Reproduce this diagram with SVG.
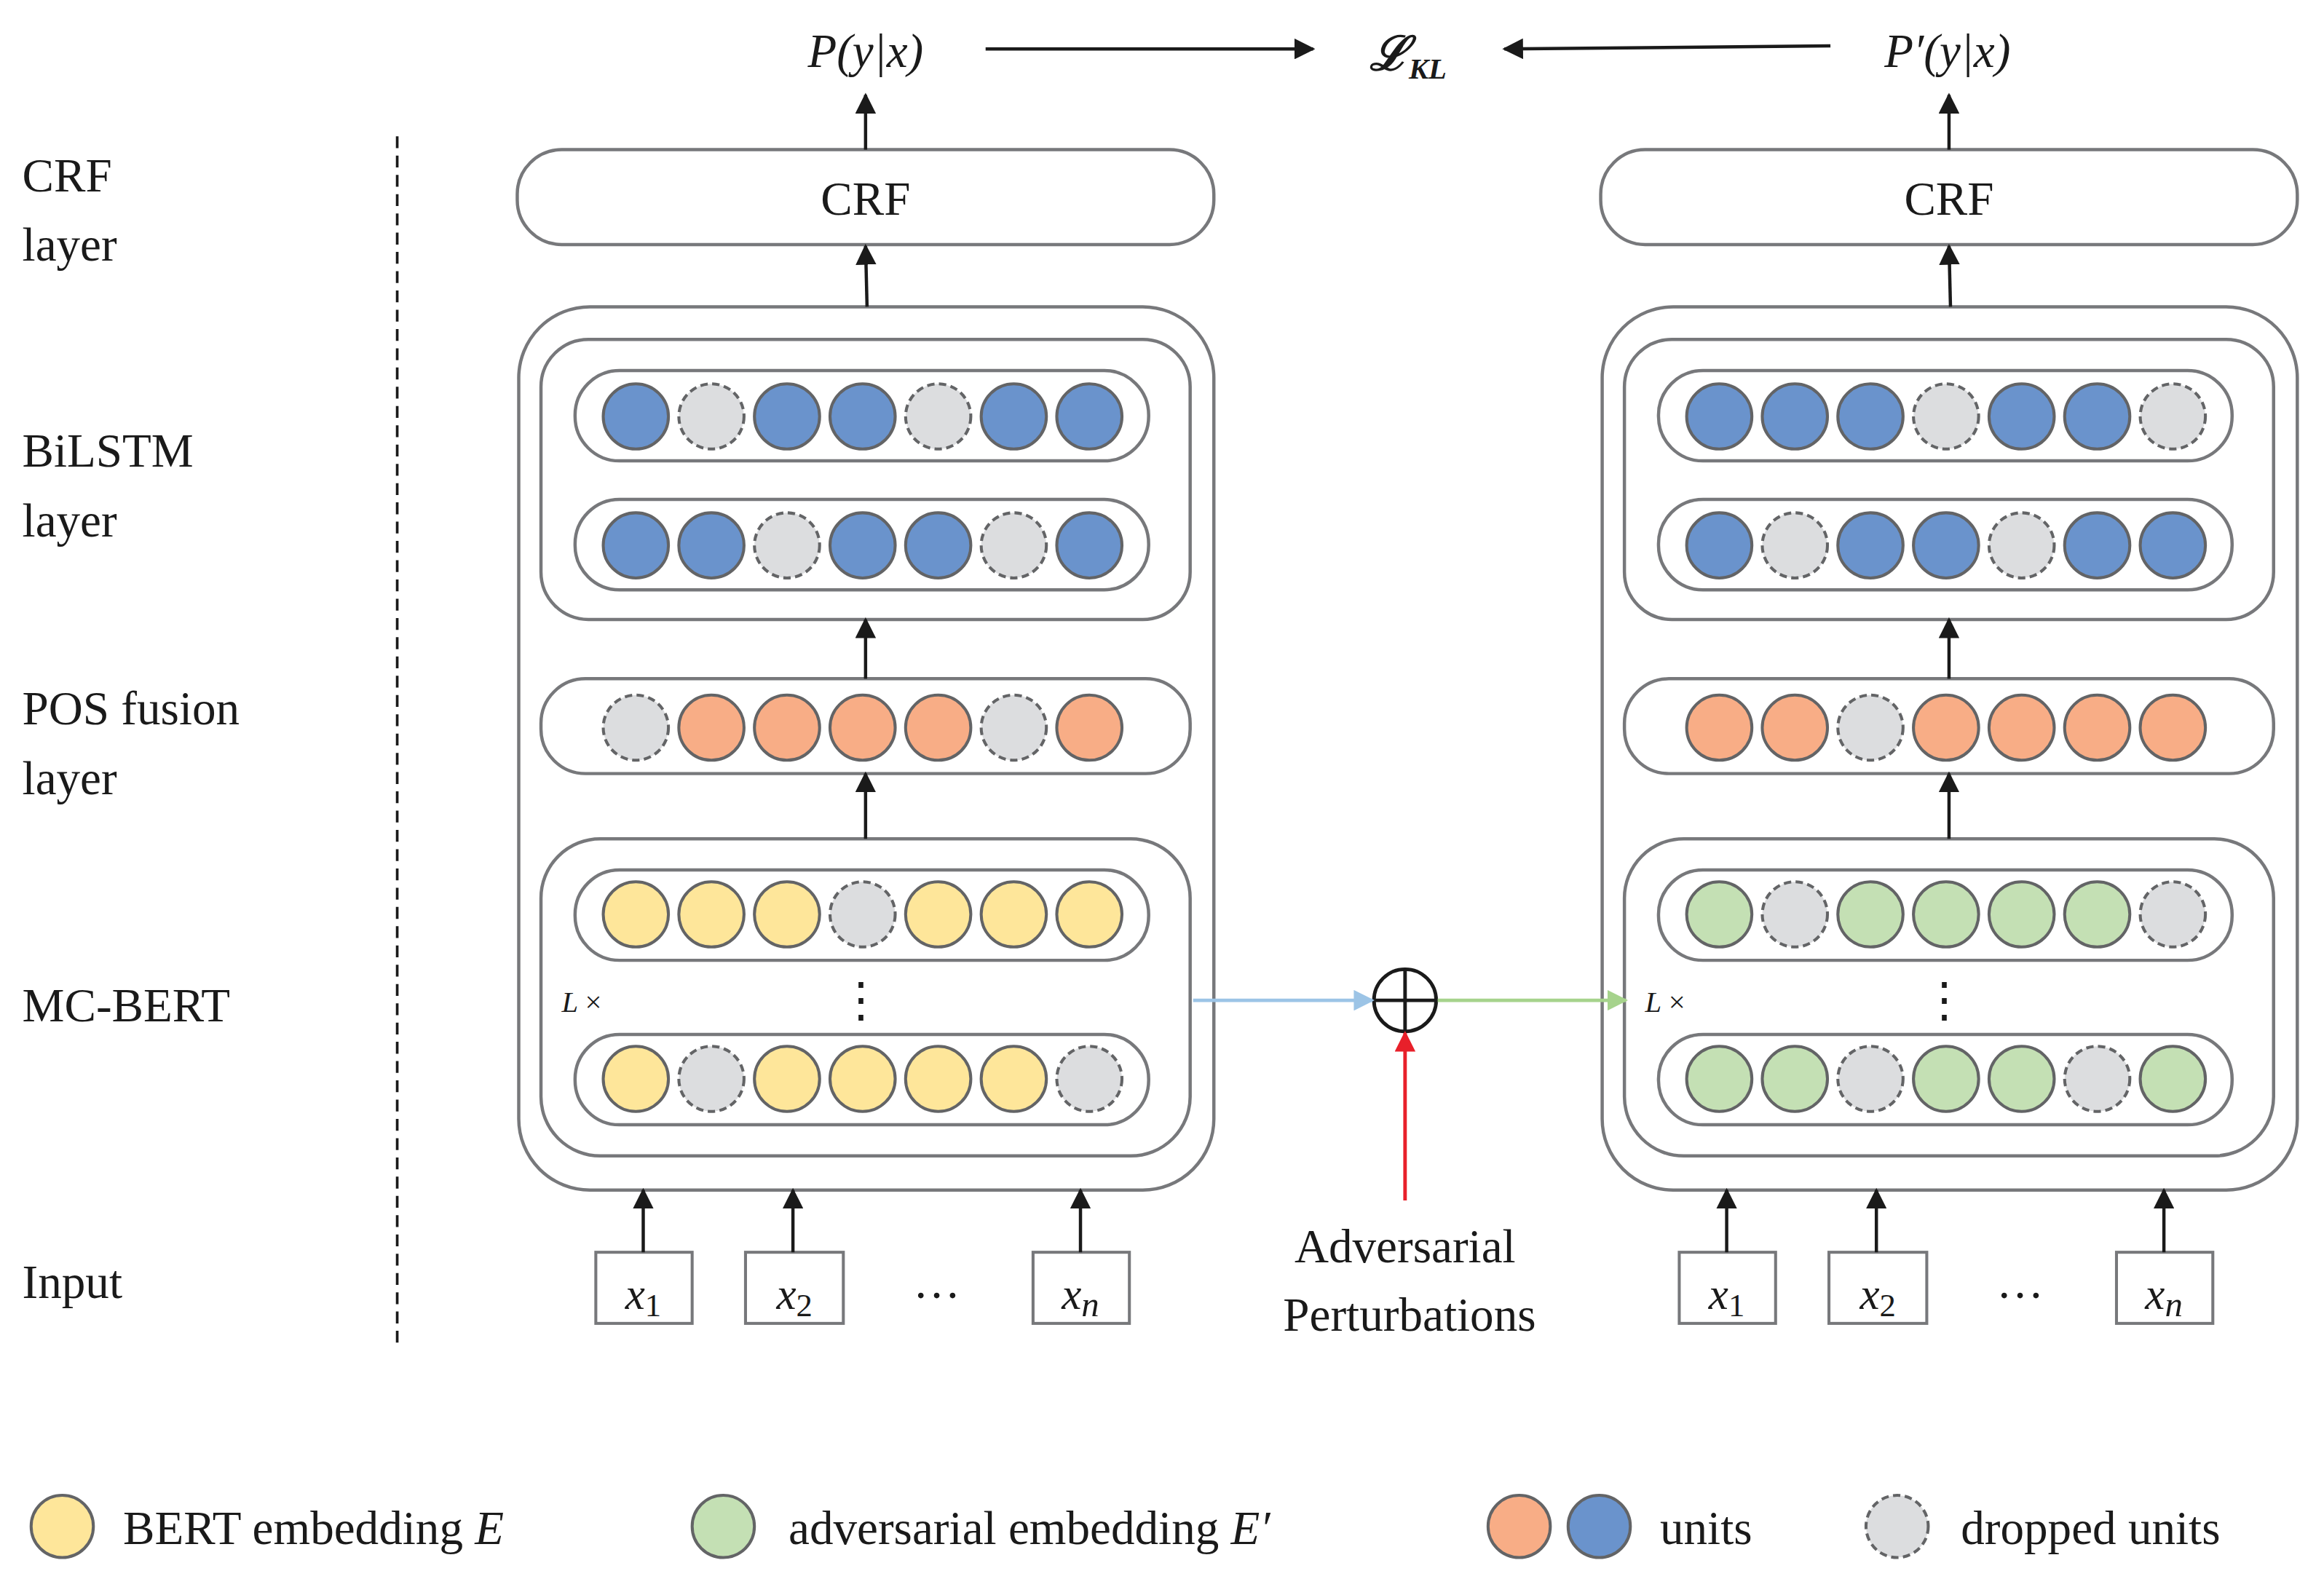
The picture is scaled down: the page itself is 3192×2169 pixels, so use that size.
<svg xmlns="http://www.w3.org/2000/svg" xmlns:xlink="http://www.w3.org/1999/xlink" width="3192" height="2169" viewBox="0 0 3192 2169">
<style>
.box{fill:none;stroke:#77787b;stroke-width:2.2}
.ibox{fill:#fff;stroke:#77787b;stroke-width:2}
.B{fill:#6a93cc;stroke:#636466;stroke-width:2}
.G{fill:#dcdddf;stroke:#636466;stroke-width:2;stroke-dasharray:5,3}
.O{fill:#f8ad86;stroke:#636466;stroke-width:2}
.Y{fill:#fee69a;stroke:#636466;stroke-width:2}
.N{fill:#c4e0b4;stroke:#636466;stroke-width:2}
.t{font-family:'Liberation Serif',serif;font-size:32px;fill:#1a1a1a}
.m{font-family:'Liberation Serif',serif;font-style:italic;fill:#1a1a1a}
.a{stroke:#1a1a1a;stroke-width:2.2;fill:none}
</style>
<defs>
<marker id="ah" viewBox="0 0 10 10" refX="9" refY="5" markerWidth="5" markerHeight="5" orient="auto" markerUnits="userSpaceOnUse"><path d="M0,0 L10,5 L0,10 z" fill="#1a1a1a"/></marker>
<marker id="ahb" viewBox="0 0 10 10" refX="9" refY="5" markerWidth="14" markerHeight="14" orient="auto" markerUnits="userSpaceOnUse"><path d="M0,0 L10,5 L0,10 z" fill="#9cc4e6"/></marker>
<marker id="ahg" viewBox="0 0 10 10" refX="9" refY="5" markerWidth="14" markerHeight="14" orient="auto" markerUnits="userSpaceOnUse"><path d="M0,0 L10,5 L0,10 z" fill="#a6d38c"/></marker>
<marker id="ahr" viewBox="0 0 10 10" refX="9" refY="5" markerWidth="14" markerHeight="14" orient="auto" markerUnits="userSpaceOnUse"><path d="M0,0 L10,5 L0,10 z" fill="#e8202a"/></marker>
<marker id="ak" viewBox="0 0 10 10" refX="9" refY="5" markerWidth="14" markerHeight="14" orient="auto" markerUnits="userSpaceOnUse"><path d="M0,0 L10,5 L0,10 z" fill="#1a1a1a"/></marker>
</defs>
<rect width="3192" height="2169" fill="#fff"/>
<g transform="scale(2.0357)">
<g id="labels">
<text class="t" x="15" y="129">CRF</text><text class="t" x="15" y="176">layer</text>
<text class="t" x="15" y="315">BiLSTM</text><text class="t" x="15" y="362">layer</text>
<text class="t" x="15" y="489">POS fusion</text><text class="t" x="15" y="536">layer</text>
<text class="t" x="15" y="689">MC-BERT</text>
<text class="t" x="15" y="876">Input</text>
<line x1="268" y1="92" x2="268" y2="908" stroke="#1a1a1a" stroke-width="1.8" stroke-dasharray="8,5"/>
</g>
<g id="top">
<text class="m" x="584" y="45" font-size="32" text-anchor="middle">P(y|x)</text>
<text class="m" x="950" y="47" font-size="32" font-weight="bold" text-anchor="middle">ℒ<tspan font-size="20" dy="6">KL</tspan></text>
<text class="m" x="1314" y="45" font-size="32" text-anchor="middle">P′(y|x)</text>
</g>
<g id="left-model">
<rect id="crf-l" class="box" x="349" y="101" width="470" height="64" rx="30"/>
<text class="t" x="584" y="145" text-anchor="middle">CRF</text>
<rect class="box" x="350" y="207" width="469" height="596" rx="48"/>
<rect class="box" x="365" y="229" width="438" height="189" rx="32"/>
<rect class="box" x="388" y="250" width="387" height="61" rx="30"/>
<rect class="box" x="388" y="337" width="387" height="61" rx="30"/>
<rect class="box" x="365" y="458" width="438" height="64" rx="30"/>
<rect class="box" x="365" y="566" width="438" height="214" rx="40"/>
<rect class="box" x="388" y="587" width="387" height="61" rx="30"/>
<rect class="box" x="388" y="698" width="387" height="61" rx="30"/>
<g>
<circle class="B" cx="429" cy="281" r="22"/><circle class="G" cx="480" cy="281" r="22"/><circle class="B" cx="531" cy="281" r="22"/><circle class="B" cx="582" cy="281" r="22"/><circle class="G" cx="633" cy="281" r="22"/><circle class="B" cx="684" cy="281" r="22"/><circle class="B" cx="735" cy="281" r="22"/>
<circle class="B" cx="429" cy="368" r="22"/><circle class="B" cx="480" cy="368" r="22"/><circle class="G" cx="531" cy="368" r="22"/><circle class="B" cx="582" cy="368" r="22"/><circle class="B" cx="633" cy="368" r="22"/><circle class="G" cx="684" cy="368" r="22"/><circle class="B" cx="735" cy="368" r="22"/>
<circle class="G" cx="429" cy="491" r="22"/><circle class="O" cx="480" cy="491" r="22"/><circle class="O" cx="531" cy="491" r="22"/><circle class="O" cx="582" cy="491" r="22"/><circle class="O" cx="633" cy="491" r="22"/><circle class="G" cx="684" cy="491" r="22"/><circle class="O" cx="735" cy="491" r="22"/>
<circle class="Y" cx="429" cy="617" r="22"/><circle class="Y" cx="480" cy="617" r="22"/><circle class="Y" cx="531" cy="617" r="22"/><circle class="G" cx="582" cy="617" r="22"/><circle class="Y" cx="633" cy="617" r="22"/><circle class="Y" cx="684" cy="617" r="22"/><circle class="Y" cx="735" cy="617" r="22"/>
<circle class="Y" cx="429" cy="728" r="22"/><circle class="G" cx="480" cy="728" r="22"/><circle class="Y" cx="531" cy="728" r="22"/><circle class="Y" cx="582" cy="728" r="22"/><circle class="Y" cx="633" cy="728" r="22"/><circle class="Y" cx="684" cy="728" r="22"/><circle class="G" cx="735" cy="728" r="22"/>
</g>
<text class="m" x="379" y="683" font-size="20">L <tspan font-style="normal">×</tspan></text>
<text class="t" x="581" y="686" text-anchor="middle" font-size="26">⋮</text>
<rect class="ibox" x="402" y="845" width="65" height="48"/><text class="m" x="434" y="883" font-size="30" text-anchor="middle">x<tspan font-style="normal" font-size="22" dy="5">1</tspan></text>
<rect class="ibox" x="503" y="845" width="66" height="48"/><text class="m" x="536" y="883" font-size="30" text-anchor="middle">x<tspan font-style="normal" font-size="22" dy="5">2</tspan></text>
<text class="t" x="632" y="876" text-anchor="middle" font-size="26">…</text>
<rect class="ibox" x="697" y="845" width="65" height="48"/><text class="m" x="729" y="883" font-size="30" text-anchor="middle">x<tspan font-size="24" dy="5">n</tspan></text>
</g>
<g id="right-model" transform="translate(731,0)">
<rect id="crf-r" class="box" x="349" y="101" width="470" height="64" rx="30"/>
<text class="t" x="584" y="145" text-anchor="middle">CRF</text>
<rect class="box" x="350" y="207" width="469" height="596" rx="48"/>
<rect class="box" x="365" y="229" width="438" height="189" rx="32"/>
<rect class="box" x="388" y="250" width="387" height="61" rx="30"/>
<rect class="box" x="388" y="337" width="387" height="61" rx="30"/>
<rect class="box" x="365" y="458" width="438" height="64" rx="30"/>
<rect class="box" x="365" y="566" width="438" height="214" rx="40"/>
<rect class="box" x="388" y="587" width="387" height="61" rx="30"/>
<rect class="box" x="388" y="698" width="387" height="61" rx="30"/>
<g>
<circle class="B" cx="429" cy="281" r="22"/><circle class="B" cx="480" cy="281" r="22"/><circle class="B" cx="531" cy="281" r="22"/><circle class="G" cx="582" cy="281" r="22"/><circle class="B" cx="633" cy="281" r="22"/><circle class="B" cx="684" cy="281" r="22"/><circle class="G" cx="735" cy="281" r="22"/>
<circle class="B" cx="429" cy="368" r="22"/><circle class="G" cx="480" cy="368" r="22"/><circle class="B" cx="531" cy="368" r="22"/><circle class="B" cx="582" cy="368" r="22"/><circle class="G" cx="633" cy="368" r="22"/><circle class="B" cx="684" cy="368" r="22"/><circle class="B" cx="735" cy="368" r="22"/>
<circle class="O" cx="429" cy="491" r="22"/><circle class="O" cx="480" cy="491" r="22"/><circle class="G" cx="531" cy="491" r="22"/><circle class="O" cx="582" cy="491" r="22"/><circle class="O" cx="633" cy="491" r="22"/><circle class="O" cx="684" cy="491" r="22"/><circle class="O" cx="735" cy="491" r="22"/>
<circle class="N" cx="429" cy="617" r="22"/><circle class="G" cx="480" cy="617" r="22"/><circle class="N" cx="531" cy="617" r="22"/><circle class="N" cx="582" cy="617" r="22"/><circle class="N" cx="633" cy="617" r="22"/><circle class="N" cx="684" cy="617" r="22"/><circle class="G" cx="735" cy="617" r="22"/>
<circle class="N" cx="429" cy="728" r="22"/><circle class="N" cx="480" cy="728" r="22"/><circle class="G" cx="531" cy="728" r="22"/><circle class="N" cx="582" cy="728" r="22"/><circle class="N" cx="633" cy="728" r="22"/><circle class="G" cx="684" cy="728" r="22"/><circle class="N" cx="735" cy="728" r="22"/>
</g>
<text class="m" x="379" y="683" font-size="20">L <tspan font-style="normal">×</tspan></text>
<text class="t" x="581" y="686" text-anchor="middle" font-size="26">⋮</text>
<rect class="ibox" x="402" y="845" width="65" height="48"/><text class="m" x="434" y="883" font-size="30" text-anchor="middle">x<tspan font-style="normal" font-size="22" dy="5">1</tspan></text>
<rect class="ibox" x="503" y="845" width="66" height="48"/><text class="m" x="536" y="883" font-size="30" text-anchor="middle">x<tspan font-style="normal" font-size="22" dy="5">2</tspan></text>
<text class="t" x="632" y="876" text-anchor="middle" font-size="26">…</text>
<rect class="ibox" x="697" y="845" width="65" height="48"/><text class="m" x="729" y="883" font-size="30" text-anchor="middle">x<tspan font-size="24" dy="5">n</tspan></text>
</g>
<g id="adder">
<circle cx="948" cy="675" r="21" fill="#fff" stroke="#1a1a1a" stroke-width="2.4"/>
<line x1="927" y1="675" x2="969" y2="675" stroke="#1a1a1a" stroke-width="2.4"/>
<line x1="948" y1="654" x2="948" y2="696" stroke="#1a1a1a" stroke-width="2.4"/>
<text class="t" x="948" y="852" text-anchor="middle">Adversarial</text>
<text class="t" x="951" y="898" text-anchor="middle">Perturbations</text>
</g>
<g id="connectors">
<line class="a" x1="665" y1="33" x2="886" y2="33" marker-end="url(#ak)"/>
<line class="a" x1="1235" y1="31" x2="1015" y2="33" marker-end="url(#ak)"/>
<g marker-end="url(#ak)">
<line class="a" x1="584" y1="101" x2="584" y2="64"/>
<line class="a" x1="585" y1="207" x2="584" y2="166"/>
<line class="a" x1="584" y1="458" x2="584" y2="418"/>
<line class="a" x1="584" y1="566" x2="584" y2="522"/>
<line class="a" x1="434" y1="845" x2="434" y2="803"/>
<line class="a" x1="535" y1="845" x2="535" y2="803"/>
<line class="a" x1="729" y1="845" x2="729" y2="803"/>
<line class="a" x1="1315" y1="101" x2="1315" y2="64"/>
<line class="a" x1="1316" y1="207" x2="1315" y2="166"/>
<line class="a" x1="1315" y1="458" x2="1315" y2="418"/>
<line class="a" x1="1315" y1="566" x2="1315" y2="522"/>
<line class="a" x1="1165" y1="845" x2="1165" y2="803"/>
<line class="a" x1="1266" y1="845" x2="1266" y2="803"/>
<line class="a" x1="1460" y1="845" x2="1460" y2="803"/>
</g>
<line x1="805" y1="675" x2="926" y2="675" stroke="#9cc4e6" stroke-width="2.4" marker-end="url(#ahb)"/>
<line x1="970" y1="675" x2="1097" y2="675" stroke="#a6d38c" stroke-width="2.4" marker-end="url(#ahg)"/>
<line x1="948" y1="810" x2="948" y2="697" stroke="#e8202a" stroke-width="2.4" marker-end="url(#ahr)"/>
</g>
<g id="legend">
<circle class="Y" cx="42" cy="1030" r="21"/>
<text class="t" x="83" y="1042">BERT embedding <tspan font-style="italic">E</tspan></text>
<circle class="N" cx="488" cy="1030" r="21"/>
<text class="t" x="532" y="1042">adversarial embedding <tspan font-style="italic">E′</tspan></text>
<circle class="O" cx="1025" cy="1030" r="21"/>
<circle class="B" cx="1079" cy="1030" r="21"/>
<text class="t" x="1120" y="1042">units</text>
<circle class="G" cx="1280" cy="1030" r="21"/>
<text class="t" x="1323" y="1042">dropped units</text>
</g>
</g>
</svg>
